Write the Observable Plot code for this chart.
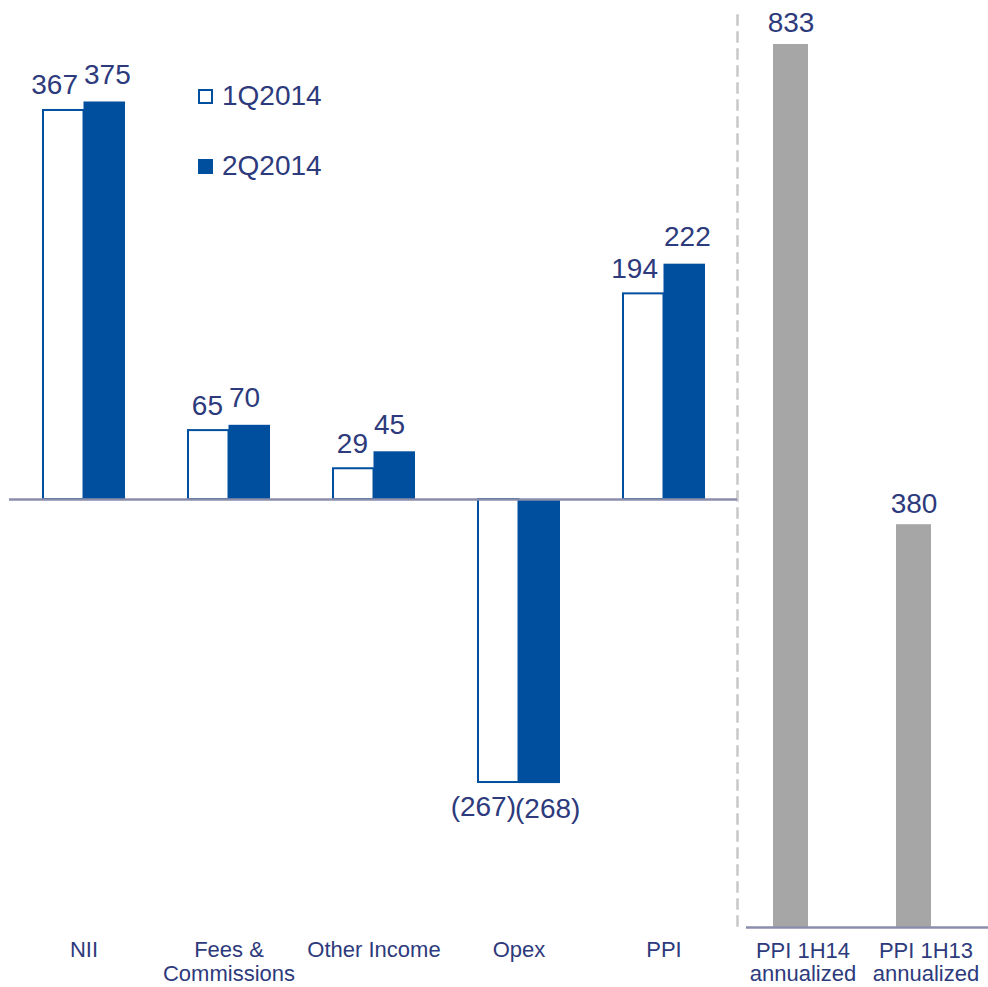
<!DOCTYPE html>
<html>
<head>
<meta charset="utf-8">
<script src="https://cdn.jsdelivr.net/npm/d3@7"></script>
<script src="https://cdn.jsdelivr.net/npm/@observablehq/plot@0.6"></script>
<style>
  html, body { margin: 0; padding: 0; background: #fff; }
  #chart { position: relative; width: 988px; height: 987px; font-family: "Liberation Sans", Arial, sans-serif; }
  #chart svg { position: absolute; left: 0; top: 0; }
  .legend { position: absolute; left: 198px; display: flex; align-items: center; height: 30px; font-size: 28px; color: #2d3a7c; }
  .sw { width: 15px; height: 15px; box-sizing: border-box; margin-right: 9px; }
</style>
</head>
<body>
<div id="chart"></div>
<script>
// ---- data ----
const categories = ["NII", "Fees &\nCommissions", "Other Income", "Opex", "PPI"];
const series = ["1Q2014", "2Q2014"];
const q1Values = [367, 65, 29, -267, 194];
const q2Values = [375, 70, 45, -268, 222];
const annualCategories = ["PPI 1H14\nannualized", "PPI 1H13\nannualized"];
const annualValues = [833, 380];

// ---- styles ----
const BLUE = "#004f9f";
const TEXT = "#2d3a7c";
const GRAY = "#a6a6a6";
const AXISLINE = "#8a8eab";
const FONT = "Liberation Sans, Arial, sans-serif";
const PX_PER_UNIT = 1.06;

const q1Rows = categories.map((c, i) => ({category: c, series: series[0], value: q1Values[i]}));
const q2Rows = categories.map((c, i) => ({category: c, series: series[1], value: q2Values[i]}));
const annualRows = annualCategories.map((c, i) => ({category: c, value: annualValues[i]}));

const fmt = d => d.value < 0 ? `(${-d.value})` : `${d.value}`;

const W = 988, H = 987;
const leftMarginL = 9, leftMarginR = 251;
const step = (W - leftMarginL - leftMarginR) / categories.length;
const padInner = 0.43;
const half = step * (1 - padInner) / 2;
const zeroLeft = 499;
const zeroRight = 927;

const left = Plot.plot({
  width: W, height: H,
  marginLeft: leftMarginL, marginRight: leftMarginR, marginTop: 15, marginBottom: 62,
  style: {background: "transparent", color: TEXT, fontFamily: FONT, overflow: "visible"},
  x: {domain: categories, paddingInner: padInner, paddingOuter: padInner / 2, axis: null},
  y: {domain: [0, 100], range: [zeroLeft, zeroLeft - 100 * PX_PER_UNIT], axis: null},
  marks: [
    Plot.frame({anchor: "right", stroke: "#c8c8c8", strokeWidth: 2.5, strokeDasharray: "9,8"}),
    Plot.barY(q1Rows, {x: "category", y: "value", fill: "white", stroke: BLUE, strokeWidth: 2, insetRight: half, insetLeft: 1}),
    Plot.barY(q2Rows, {x: "category", y: "value", fill: BLUE, insetLeft: half}),
    Plot.ruleY([0], {stroke: AXISLINE, strokeWidth: 2.5}),
    Plot.text(q1Rows, {filter: d => d.value >= 0, x: "category", y: "value", text: fmt, textAnchor: "end", dx: -6, dy: -25, fontSize: 28, fill: TEXT}),
    Plot.text(q1Rows, {filter: d => d.value < 0, x: "category", y: "value", text: fmt, textAnchor: "end", dx: -3, dy: 25, fontSize: 28, fill: TEXT}),
    Plot.text(q2Rows, {filter: d => d.value >= 0, x: "category", y: "value", text: fmt, textAnchor: "start", dx: 0, dy: -27, fontSize: 28, fill: TEXT}),
    Plot.text(q2Rows, {filter: d => d.value < 0, x: "category", y: "value", text: fmt, textAnchor: "start", dx: -4, dy: 25, fontSize: 28, fill: TEXT}),
    Plot.axisX({tickSize: 0, tickPadding: 15, fontSize: 22, label: null, lineHeight: 1.08, fill: TEXT})
  ]
});

const right = Plot.plot({
  width: W, height: H,
  marginLeft: 746, marginRight: 0, marginTop: 0, marginBottom: H - zeroRight,
  style: {background: "transparent", color: TEXT, fontFamily: FONT, overflow: "visible"},
  x: {domain: annualCategories, range: [729, 975], paddingInner: 0.715, paddingOuter: 0.3575, axis: null},
  y: {domain: [0, 100], range: [zeroRight, zeroRight - 100 * PX_PER_UNIT], axis: null},
  marks: [
    Plot.barY(annualRows, {x: "category", y: "value", fill: GRAY}),
    Plot.ruleY([0], {stroke: AXISLINE, strokeWidth: 2.5}),
    Plot.text(annualRows, {x: "category", y: "value", text: fmt, dy: -21, fontSize: 28, fill: TEXT}),
    Plot.axisX({tickSize: 0, tickPadding: 14, dx: 12, fontSize: 22, label: null, lineHeight: 1.05, fill: TEXT})
  ]
});

const chart = document.getElementById("chart");
chart.appendChild(left);
chart.appendChild(right);

// legend
const legendItems = [
  {label: series[0], top: 81, style: `border: 2px solid ${BLUE}; background: white;`},
  {label: series[1], top: 151, style: `background: ${BLUE};`}
];
for (const it of legendItems) {
  const div = document.createElement("div");
  div.className = "legend";
  div.style.top = it.top + "px";
  div.innerHTML = `<span class="sw" style="${it.style}"></span><span>${it.label}</span>`;
  chart.appendChild(div);
}
</script>
</body>
</html>
